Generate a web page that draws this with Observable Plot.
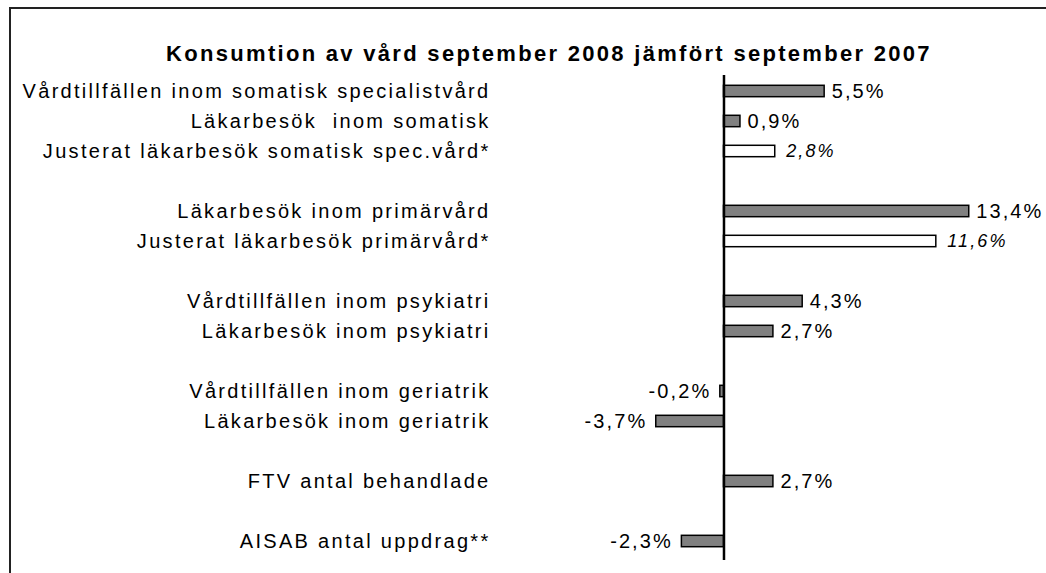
<!DOCTYPE html>
<html>
<head>
<meta charset="utf-8">
<script src="https://cdn.jsdelivr.net/npm/d3@7"></script>
<script src="https://cdn.jsdelivr.net/npm/@observablehq/plot@0.6"></script>
<style>
  html, body { margin: 0; padding: 0; background: #fff; }
  #wrap { position: relative; width: 1046px; height: 573px; overflow: hidden; font-family: "Liberation Sans", Arial, sans-serif; }
  #frame { position: absolute; left: 9px; top: 7px; width: 1100px; height: 700px; border-left: 2px solid #222; border-top: 2px solid #222; }
  #title { position: absolute; left: 0; top: 41px; width: 1098px; text-align: center; font-weight: bold; font-size: 22px; letter-spacing: 2.3px; color: #000; }
  #chart { position: absolute; left: 0; top: 0; }
  #chart svg text { letter-spacing: 2.1px; }
  #chart svg g[aria-label="y-axis tick label"] text { letter-spacing: 2.3px; }
</style>
</head>
<body>
<div id="wrap">
  <div id="frame"></div>
  <div id="chart"></div>
  <div id="title">Konsumtion av vård september 2008 jämfört september 2007</div>
</div>
<script>
const categories = [
  "Vårdtillfällen inom somatisk specialistvård",
  "Läkarbesök  inom somatisk",
  "Justerat läkarbesök somatisk spec.vård*",
  "Läkarbesök inom primärvård",
  "Justerat läkarbesök primärvård*",
  "Vårdtillfällen inom psykiatri",
  "Läkarbesök inom psykiatri",
  "Vårdtillfällen inom geriatrik",
  "Läkarbesök inom geriatrik",
  "FTV antal behandlade",
  "AISAB antal uppdrag**"
];
const values = [5.5, 0.9, 2.8, 13.4, 11.6, 4.3, 2.7, -0.2, -3.7, 2.7, -2.3];
const adjusted = [false, false, true, false, true, false, false, false, false, false, false];
const slots = [0, 1, 2, 4, 5, 7, 8, 10, 11, 13, 15];

const data = categories.map((c, i) => ({
  cat: c, v: values[i], adj: adjusted[i], slot: slots[i]
}));
const fmt = v => v.toFixed(1).replace(".", ",") + "%";
const labelOf = new Map(data.map(d => [d.slot, d.cat]));

const plot = Plot.plot({
  width: 1046,
  height: 573,
  marginLeft: 500,
  marginRight: 0,
  marginTop: 75,
  marginBottom: 13,
  style: { fontFamily: "'Liberation Sans', Arial, sans-serif", background: "transparent" },
  x: { domain: [-12.21, 17.62], axis: null },
  y: { domain: [-0.533, 15.633], reverse: true, axis: null },
  marks: [
    Plot.axisY(slots, {
      anchor: "left", tickSize: 0, tickPadding: 10, fontSize: 20, label: null,
      tickFormat: s => labelOf.get(s), fill: "#000"
    }),
    Plot.rectX(data, {
      x1: 0, x2: "v", y1: d => d.slot - 0.19, y2: d => d.slot + 0.19,
      fill: d => d.adj ? "#fff" : "#808080", stroke: "#000", strokeWidth: 1.5
    }),
    Plot.ruleX([0], { stroke: "#000", strokeWidth: 2.5 }),
    Plot.text(data.filter(d => !d.adj && d.v >= 0), {
      x: "v", y: "slot", text: d => fmt(d.v), textAnchor: "start", dx: 7, fontSize: 20, fill: "#000"
    }),
    Plot.text(data.filter(d => !d.adj && d.v < 0), {
      x: "v", y: "slot", text: d => fmt(d.v), textAnchor: "end", dx: -9, fontSize: 20, fill: "#000"
    }),
    Plot.text(data.filter(d => d.adj), {
      x: "v", y: "slot", text: d => fmt(d.v), textAnchor: "start", dx: 11, fontSize: 18, fontStyle: "italic", fill: "#000"
    })
  ]
});
document.getElementById("chart").appendChild(plot);
</script>
</body>
</html>
